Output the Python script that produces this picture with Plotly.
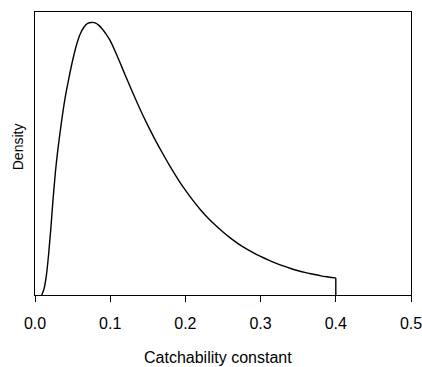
import plotly.graph_objects as go

# Catchability constant (x) and density
catchability = [0.009, 0.012, 0.015, 0.018, 0.021, 0.024, 0.027, 0.030, 0.035, 0.040,
                0.045, 0.050, 0.055, 0.060, 0.065, 0.070, 0.075, 0.080, 0.085, 0.090,
                0.095, 0.100, 0.110, 0.120, 0.130, 0.140, 0.150, 0.160, 0.170, 0.180,
                0.190, 0.200, 0.210, 0.220, 0.230, 0.240, 0.250, 0.260, 0.270, 0.280,
                0.290, 0.300, 0.310, 0.320, 0.330, 0.340, 0.350, 0.360, 0.370, 0.380,
                0.390, 0.400]
density = [0.00, 0.19, 0.59, 1.25, 2.06, 3.00, 3.81, 4.47, 5.38, 6.16,
           6.78, 7.34, 7.81, 8.16, 8.38, 8.50, 8.53, 8.52, 8.44, 8.31,
           8.15, 7.96, 7.44, 6.88, 6.33, 5.80, 5.31, 4.85, 4.42, 4.01,
           3.63, 3.28, 2.96, 2.67, 2.41, 2.18, 1.97, 1.78, 1.61, 1.46,
           1.33, 1.21, 1.10, 1.00, 0.91, 0.83, 0.76, 0.70, 0.65, 0.60,
           0.565, 0.535]
# upper truncation bound of the distribution
upper_bound = 0.4

x_ticks = [0.0, 0.1, 0.2, 0.3, 0.4, 0.5]
x_tick_labels = ["0.0", "0.1", "0.2", "0.3", "0.4", "0.5"]

FONT = "Liberation Sans, Arial, sans-serif"

fig = go.Figure()
fig.add_trace(go.Scatter(
    x=catchability, y=density, mode="lines",
    line=dict(color="black", width=1.4, shape="spline", smoothing=1.0),
    hoverinfo="skip", showlegend=False))
# vertical drop at the truncation bound
fig.add_trace(go.Scatter(
    x=[upper_bound, upper_bound], y=[density[-1], 0], mode="lines",
    line=dict(color="black", width=1.4),
    hoverinfo="skip", showlegend=False))

ymax = max(density) / 0.963

fig.update_layout(
    width=422, height=367,
    margin=dict(l=35, r=11, t=12, b=72, autoexpand=False),
    plot_bgcolor="white", paper_bgcolor="white",
    font=dict(family=FONT, color="black"),
    xaxis=dict(range=[0, 0.5], tickvals=x_ticks, ticktext=x_tick_labels,
               automargin=False,
               showline=True, mirror=True, linecolor="black", linewidth=1.3,
               ticks="outside", ticklen=6, tickwidth=1.3, tickcolor="black",
               ticklabelstandoff=8, ticklabeloverflow="allow",
               tickfont=dict(size=16, family=FONT), showgrid=False, zeroline=False),
    yaxis=dict(range=[0, ymax], showline=True, mirror=True, linecolor="black",
               automargin=False,
               linewidth=1.3, showticklabels=False, ticks="", showgrid=False,
               zeroline=False),
    annotations=[
        dict(text="Catchability constant", xref="paper", yref="paper",
             x=0.486, y=-0.222, xanchor="center", yanchor="middle",
             showarrow=False, font=dict(size=16, family=FONT)),
        dict(text="Density", xref="paper", yref="paper", textangle=-90,
             x=-0.043, y=0.525, xanchor="center", yanchor="middle",
             showarrow=False, font=dict(size=14, family=FONT)),
    ],
)

fig.write_html("out.html")
